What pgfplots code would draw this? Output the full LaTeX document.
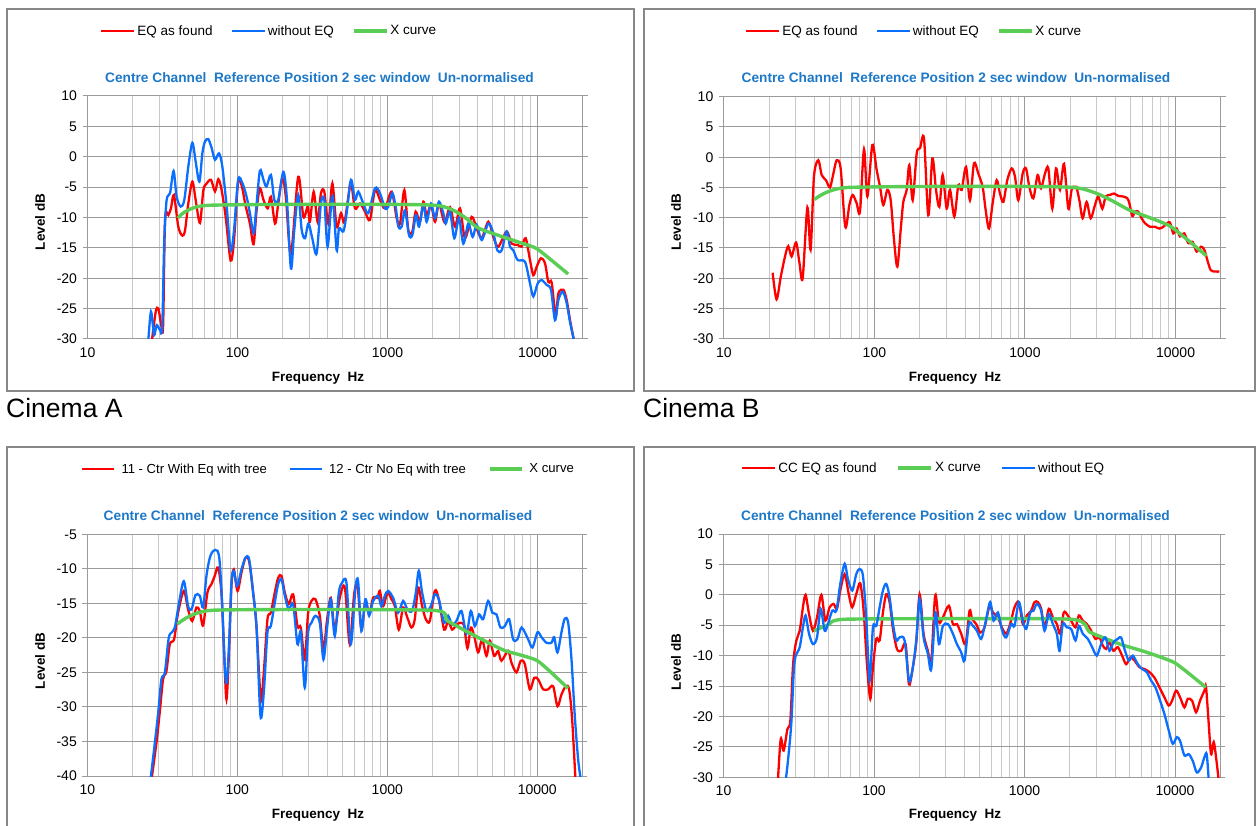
\documentclass[border=0pt]{standalone}
\usepackage{fontspec}
\setmainfont{Liberation Sans}
\usepackage{pgfplots}
\usepackage{pgfplotstable}
\pgfplotsset{compat=1.18}
\definecolor{cred}{RGB}{255,0,0}
\definecolor{cblue}{RGB}{10,110,255}
\definecolor{cgreen}{RGB}{90,205,85}
\definecolor{ctitle}{RGB}{30,120,200}
\definecolor{cframe}{RGB}{135,135,135}
\definecolor{cgridmin}{RGB}{200,200,200}
\definecolor{cgridy}{RGB}{155,155,155}
\pgfplotsset{
  every axis/.append style={
    scale only axis,
    xmin=10, xmax=20000,
    xtick={10,100,1000,10000},
    xticklabels={10,100,1000,10000},
    minor xtick={20,30,40,50,60,70,80,90,200,300,400,500,600,700,800,900,2000,3000,4000,5000,6000,7000,8000,9000},
    xmajorgrids, xminorgrids, ymajorgrids,
    major grid style={draw=cgridy, line width=1pt},
    minor grid style={draw=cgridmin, line width=1pt},
    axis line style={draw=cgridy, line width=1pt},
    tick align=outside,
    major tick length=5pt,
    minor tick length=0pt,
    xtick style={draw=none},
    ytick style={draw=cgridy, line width=1pt},
    tick label style={font=\fontsize{14}{16}\selectfont},
    yticklabel style={xshift=-2pt},
    label style={font=\bfseries\fontsize{13.5}{15}\selectfont},
    title style={font=\bfseries\fontsize{13.7}{15}\selectfont, text=ctitle, anchor=center, yshift=-7pt},
    xlabel={Frequency\ \ Hz},
    ylabel={Level dB},
    title={Centre Channel\ \ Reference Position 2 sec window\ \ Un-normalised},
    legend columns=3,
    legend cell align=left,
  },
  every axis legend/.append style={draw=none, fill=none, anchor=west, font=\fontsize{13.5}{15}\selectfont, inner sep=0pt},
  legend image code/.code={\draw[#1] (0pt,0pt) -- (33pt,0pt);},
}
\tikzset{
  redl/.style={draw=cred, line width=2.3pt, smooth, tension=0.5},
  bluel/.style={draw=cblue, line width=2.3pt, smooth, tension=0.5},
  greenl/.style={draw=cgreen, line width=3.4pt, smooth, tension=0.3},
}
\begin{document}
% ---------------- Panel A ----------------
\pgfplotstableread{
f db
26.8 -30.5
28.5 -25.5
29.7 -25.0
30.9 -27.5
31.9 -28.0
32.9 -10.4
34.6 -9.6
36.0 -8.5
37.7 -6.3
40.3 -11.5
42.9 -13.0
44.7 -12.1
47.0 -7.7
50.0 -4.1
52.6 -7.1
56.2 -10.9
59.2 -5.5
62.3 -4.4
66.6 -3.8
70.8 -5.7
74.5 -3.7
78.4 -5.5
83.4 -9.9
90.0 -17.1
94.8 -13.7
101 -4.1
107 -4.9
113 -8.0
121 -11.0
128 -14.4
134 -8.8
141 -5.2
149 -7.1
159 -8.5
167 -6.6
178 -11.0
187 -7.7
199 -3.5
210 -6.6
227 -16.0
254 -3.3
275 -9.9
294 -8.2
304 -10.7
322 -5.75
342 -10.7
360 -6.0
379 -5.75
403 -11.0
429 -4.4
458 -11.5
490 -9.3
515 -10.9
548 -6.6
571 -4.1
607 -8.5
656 -7.7
708 -9.05
764 -10.4
825 -5.5
891 -7.1
962 -8.5
1066 -5.75
1151 -10.1
1212 -11.0
1295 -5.5
1377 -12.1
1464 -12.3
1541 -9.05
1647 -10.7
1734 -7.4
1825 -9.6
1950 -7.95
2074 -10.7
2204 -7.7
2400 -10.8
2610 -8.3
2818 -11.5
3043 -8.5
3286 -13.4
3640 -9.9
3930 -11.8
4245 -13.4
4701 -10.7
5077 -13.2
5480 -14.8
6227 -12.3
6727 -14.3
7375 -14.5
7843 -14.8
8338 -13.4
8913 -17.0
9380 -19.5
9872 -18.1
10552 -16.7
11220 -17.55
11810 -20.6
12430 -20.7
13220 -26.3
13770 -22.5
14870 -21.9
15650 -23.6
16470 -26.9
17600 -30.5
}\Ared
\pgfplotstableread{
f db
25.4 -30.5
26.5 -25.5
27.8 -29.35
28.9 -27.7
30.4 -28.5
31.5 -28.0
32.5 -13.7
33.7 -7.1
35.5 -6.0
37.5 -2.35
39.3 -6.6
41.8 -8.2
44.2 -7.1
47.0 -1.6
50.0 2.3
52.6 -0.8
55.7 -4.1
58.3 0.56
60.7 2.5
63.9 2.9
67.3 1.4
70.8 -0.5
75.3 0.56
79.2 -1.6
84.7 -8.2
90.0 -15.4
94.8 -12.1
101 -3.8
108 -4.4
115 -6.6
121 -9.3
128 -12.6
133 -8.8
141 -2.3
149 -3.8
156 -4.9
167 -3.0
176 -7.1
187 -7.1
202 -2.5
213 -6.6
227 -18.4
239 -12.1
254 -6.3
268 -12.1
282 -13.4
297 -11.0
315 -13.4
337 -15.9
360 -7.7
379 -7.1
399 -14.8
429 -6.5
458 -15.4
475 -11.8
508 -12.3
534 -9.3
571 -3.8
607 -7.1
639 -5.75
690 -7.7
745 -9.3
825 -5.2
891 -6.0
962 -8.5
1013 -8.2
1077 -6.0
1133 -8.2
1181 -11.5
1243 -11.5
1308 -8.8
1391 -12.9
1464 -12.9
1549 -9.6
1622 -11.5
1734 -7.95
1825 -10.7
1950 -7.7
2074 -10.1
2204 -7.4
2356 -9.3
2443 -11.0
2610 -9.05
2789 -13.4
2997 -10.1
3203 -14.3
3458 -11.0
3696 -13.2
3930 -11.2
4245 -13.7
4701 -11.0
5077 -12.6
5397 -15.4
5770 -15.4
6227 -12.3
6558 -14.8
6900 -15.4
7375 -17.0
8254 -17.3
8913 -20.85
9380 -23.0
10025 -20.85
10662 -20.3
11510 -21.1
12300 -21.9
13080 -26.9
13770 -23.6
14720 -22.2
15650 -24.1
16470 -27.2
17600 -30.5
}\Ablue
\pgfplotstableread{
f db
40 -10.1
63 -8.0
2100 -8.0
4000 -11.7
5000 -12.6
8000 -14.3
10000 -15.2
16000 -19.3
}\Agreen
% ---------------- Panel B ----------------
\pgfplotstableread{
f db
21.1 -19.1
22.4 -23.5
23.9 -19.75
25.5 -16.4
26.8 -14.7
28.2 -16.4
30.2 -14.1
31.8 -17.5
33.4 -20.0
35.9 -8.3
37.7 -15.3
39.7 -3.2
42.4 -0.5
44.7 -2.95
47.7 -3.8
50.7 -5.0
53.4 -2.7
56.2 -0.5
59.7 -1.85
64.1 -11.5
68.2 -7.9
71.7 -6.25
76.2 -7.6
80.2 -9.0
85.3 1.3
89.8 -6.5
96.9 2.0
103.5 -2.1
109 -4.9
114.6 -7.9
121.9 -5.4
128.3 -7.1
135 -13.7
142 -18.1
149.5 -12.0
155.6 -7.4
163.8 -5.4
170.6 -1.3
179.6 -7.1
190.9 0.6
200.9 1.5
213.5 3.1
228 -9.6
242.6 -0.2
256.5 -5.4
270 -8.2
284 -2.95
302 -8.5
317.8 -5.4
339.6 -9.8
360.9 -4.6
379.8 -5.4
405.8 -1.6
431 -7.1
458.6 -1.0
489.8 -2.7
523.4 -4.9
548 -8.7
576.8 -11.8
610 -7.6
648.5 -3.8
682.3 -6.0
718 -7.4
763 -3.8
815.5 -1.85
858 -3.2
903 -7.1
965 -2.7
1015 -1.85
1069 -4.9
1136 -6.8
1214 -2.95
1277 -5.15
1358 -2.7
1429 -1.85
1519 -8.5
1607 -1.85
1708 -5.4
1816 -1.1
1940 -8.5
2041 -5.4
2182 -4.9
2296 -7.1
2415 -10.1
2567 -7.4
2730 -10.1
2916 -7.9
3069 -6.5
3263 -8.5
3434 -6.5
3667 -6.25
3899 -6.0
4166 -6.4
4498 -6.5
4781 -6.8
4930 -7.6
5161 -9.7
5378 -9.0
5656 -9.0
5953 -10.1
6262 -10.9
6761 -11.5
7298 -11.5
7798 -11.8
8290 -11.5
8813 -10.9
9182 -10.8
9660 -12.6
10165 -11.8
10695 -13.1
11430 -12.6
12150 -14.2
12985 -14.0
13800 -15.6
14750 -14.8
15520 -15.3
16250 -17.0
17100 -18.65
18265 -18.9
19520 -18.9
}\Bred
\pgfplotstableread{
f db
40 -7.0
67 -5.0
2100 -5.0
5000 -8.8
9200 -11.4
16000 -16.3
}\Bgreen
% ---------------- Panel C ----------------
\pgfplotstableread{
f db
26.8 -40.5
28.9 -35.2
30.4 -30.8
32.0 -26.0
33.7 -24.8
35.5 -20.9
37.9 -20.2
40.3 -16.35
44.0 -13.2
47.0 -15.9
50.0 -17.55
53.4 -15.6
56.2 -16.1
59.2 -18.2
63.2 -13.45
67.3 -12.2
70.8 -11.0
74.5 -9.8
78.4 -13.45
81.7 -22.1
84.7 -28.9
88.2 -21.7
91.4 -12.5
94.8 -10.1
100.3 -13.2
106.6 -10.55
113.3 -8.4
119.9 -8.9
127.5 -13.45
134.2 -18.3
143.4 -28.9
150.2 -25.0
158.9 -17.3
167.2 -16.35
177.8 -13.45
187.2 -11.3
197 -11.0
207.4 -13.45
220.4 -15.1
235.6 -13.7
251.8 -18.3
265 -18.5
281.8 -23.1
296.7 -16.35
312.3 -14.65
331.9 -14.4
354.8 -16.8
375.3 -21.7
397.1 -17.3
420.1 -14.2
446.7 -18.8
482 -14.2
521 -12.7
562 -20.9
601 -13.7
633 -12.4
672 -18.8
715 -14.65
757 -16.6
804 -14.2
860 -14.2
891 -13.2
938 -15.4
1003 -13.45
1066 -14.4
1122 -15.4
1193 -18.8
1275 -15.6
1362 -17.1
1449 -18.5
1525 -17.3
1606 -12.7
1707 -15.4
1806 -17.3
1920 -17.55
2074 -13.2
2204 -14.4
2393 -18.8
2544 -17.55
2705 -18.8
2891 -18.1
3090 -17.8
3253 -18.3
3423 -21.5
3604 -18.5
3793 -19.7
4034 -22.1
4288 -20.2
4583 -22.6
4824 -20.4
5155 -22.6
5480 -21.9
5770 -23.3
6391 -21.9
6727 -23.6
7263 -25.0
7762 -23.3
8254 -23.8
8913 -27.45
9526 -25.8
10130 -26.0
10940 -27.45
11810 -27.45
12750 -27.0
13630 -29.9
14490 -28.2
15490 -27.0
16300 -27.45
17070 -31.8
17960 -40.5
}\Cred
\pgfplotstableread{
f db
26.4 -40.5
28.2 -35.2
29.7 -30.8
31.2 -26.0
32.9 -25.0
34.9 -20.0
36.8 -19.15
38.5 -18.3
40.9 -14.9
44.0 -11.8
47.0 -15.4
49.5 -15.9
52.6 -13.8
56.2 -13.9
59.2 -15.6
62.3 -11.0
65.6 -8.4
69.1 -7.4
73.8 -7.4
76.4 -9.1
79.6 -15.9
82.5 -24.1
85.1 -26.5
88.2 -20.7
91.4 -12.0
94.8 -10.3
99.7 -12.5
106.6 -10.1
113.3 -8.4
119.9 -8.6
127.5 -13.45
134.2 -18.3
142.7 -31.3
150.2 -27.9
158.9 -19.2
167.2 -18.3
177.8 -14.9
187.2 -12.2
197 -11.5
207.4 -13.9
220.4 -15.9
235.6 -15.1
251.8 -20.9
265 -19.2
281.8 -27.2
296.7 -19.2
312.3 -17.8
331.9 -16.8
354.8 -17.8
375.3 -23.1
397.1 -18.5
420.1 -14.4
446.7 -19.7
475 -13.45
500 -12.0
534 -12.0
571 -20.9
614 -12.7
639 -11.8
672 -19.0
715 -14.4
757 -16.8
804 -14.65
869 -13.9
914 -15.4
962 -13.9
1013 -13.2
1094 -14.2
1181 -16.35
1275 -14.65
1362 -15.9
1464 -16.1
1549 -13.45
1622 -10.3
1707 -13.45
1825 -16.1
1950 -15.4
2074 -13.7
2204 -14.4
2393 -17.8
2544 -16.8
2705 -18.1
2891 -17.55
3122 -16.1
3372 -19.4
3604 -16.1
3832 -18.3
4094 -16.6
4354 -17.3
4701 -14.65
5012 -16.35
5343 -16.6
5681 -18.5
6073 -18.3
6490 -17.3
6900 -20.2
7375 -20.2
7865 -18.5
8688 -20.2
9286 -21.4
10025 -19.2
10662 -19.9
11510 -20.7
12430 -20.7
12950 -19.9
13630 -22.1
14490 -19.2
15250 -17.2
16060 -17.8
16900 -23.1
17780 -31.3
18720 -37.6
19500 -40.5
}\Cblue
\pgfplotstableread{
f db
40 -18.0
68 -16.0
2000 -16.0
2500 -17.5
4000 -19.9
6000 -21.8
10000 -23.3
16000 -27.3
}\Cgreen
% ---------------- Panel D ----------------
\pgfplotstableread{
f db
23.0 -30.5
24.0 -23.7
25.1 -25.6
26.6 -22.05
27.8 -20.7
29.0 -11.4
30.5 -7.5
32.1 -5.9
33.7 -2.05
35.1 0.0
37.0 -3.15
39.3 -5.9
41.8 -3.7
44.7 0.0
47.5 -4.25
50.7 -2.05
53.9 -1.5
56.7 -2.3
59.7 0.7
63.8 3.4
68.2 -0.1
71.7 -2.05
76.2 0.1
81.0 1.9
85.3 -2.6
89.8 -11.4
94.5 -17.1
98.4 -11.9
103.5 -7.25
109 -7.5
114.6 -2.9
120.6 0.1
126.9 -1.2
133.6 -5.6
142 -8.9
151.7 -9.2
162.2 -8.1
170.6 -14.7
179.6 -12.5
190.9 -7.8
200.9 0.1
213.5 -6.4
228 -9.2
240 -11.1
255 -0.1
270 -4.5
287 -3.7
314.6 -1.8
334.4 -4.8
355.4 -4.8
379.8 -6.4
405.8 -8.1
431.4 -2.6
449 -4.0
477.6 -4.8
507.6 -6.2
542.6 -5.35
585.7 -1.8
616.3 -2.9
665.3 -3.7
707.2 -5.35
755.3 -6.4
803 -4.8
858.5 -2.05
917.3 -1.2
975 -4.8
1036 -3.4
1107 -2.6
1165 -1.2
1226 -1.2
1290 -2.3
1358 -5.35
1451 -2.3
1542 -3.7
1640 -4.8
1725 -6.4
1825 -2.9
1940 -3.4
2041 -4.25
2182 -5.35
2296 -3.4
2440 -4.25
2594 -4.8
2772 -5.9
2962 -7.25
3148 -7.0
3313 -8.35
3486 -8.9
3667 -7.8
3899 -9.2
4166 -8.6
4451 -10.0
4734 -11.4
5057 -10.3
5378 -10.8
5803 -11.9
6262 -12.2
6761 -12.7
7298 -13.6
7877 -15.2
8503 -16.85
9088 -18.2
9561 -17.4
10165 -15.75
10804 -16.85
11543 -18.5
12150 -17.1
12985 -17.4
13800 -19.3
14670 -17.4
15680 -15.75
16080 -15.2
16750 -21.2
17360 -26.2
18080 -24.2
18740 -26.7
19520 -30.5
}\Dred
\pgfplotstableread{
f db
25.9 -30.5
26.8 -27.3
28.2 -21.2
29.3 -12.5
30.2 -10.0
32.1 -8.6
33.7 -5.35
35.1 -3.4
37.0 -6.4
39.3 -8.1
41.8 -7.0
44.2 -2.3
47.0 -5.9
49.4 -4.8
52.8 -2.6
56.2 -2.6
59.7 1.8
63.8 5.1
67.1 2.6
71.7 0.7
76.2 3.4
80.2 4.25
84.4 3.15
88.8 -3.7
93.5 -14.1
98.4 -5.35
103.5 -5.1
109 -2.05
114.6 0.7
120.6 1.8
126.9 -0.4
133.6 -4.8
140.6 -7.5
148 -7.0
159.7 -7.5
170.6 -14.1
179.6 -12.5
190.9 -7.5
200.9 -0.7
213.5 -7.0
228 -9.7
240 -12.2
256.5 -2.9
270 -8.1
287 -5.1
309.7 -4.8
334.4 -6.4
355.4 -8.1
379.8 -9.45
399.6 -10.8
427 -4.8
454 -5.1
482.6 -5.9
515.8 -7.25
550.8 -4.5
591.6 -1.2
622.6 -4.25
665.3 -2.9
710.8 -5.9
755.3 -7.0
815.5 -4.8
858.5 -5.1
917.3 -1.2
975 -4.25
1026 -5.6
1091 -2.9
1148 -2.6
1207 -1.5
1290 -2.6
1358 -5.9
1451 -3.15
1542 -4.8
1640 -6.4
1708 -9.2
1797 -4.8
1910 -5.35
2041 -5.6
2182 -7.5
2296 -5.1
2440 -6.4
2634 -7.25
2814 -8.6
3022 -10.0
3229 -8.1
3451 -7.0
3667 -9.2
3899 -7.8
4166 -7.25
4384 -7.0
4613 -8.9
4930 -10.8
5242 -10.0
5656 -11.4
6045 -12.2
6492 -12.7
6935 -14.1
7410 -15.2
7961 -17.4
8503 -19.6
9088 -22.3
9660 -24.5
10270 -23.4
10804 -24.0
11543 -26.4
12340 -26.2
13120 -27.3
13950 -29.2
14900 -28.4
15680 -26.7
16250 -26.2
16750 -30.5
}\Dblue
\pgfplotstableread{
f db
40 -5.9
50 -4.9
67 -4.0
2000 -4.0
2700 -6.1
4300 -8.1
6400 -9.4
10000 -11.2
16000 -15.2
}\Dgreen
\begin{tikzpicture}
\useasboundingbox (0pt,0pt) rectangle (1260pt,825pt);
\fill[white] (0pt,0pt) rectangle (1260pt,825pt);
\draw[cframe, line width=1.6pt] (7pt,434pt) rectangle (634pt,816pt);
\draw[cframe, line width=1.6pt] (644pt,434pt) rectangle (1255pt,816pt);
\draw[cframe, line width=1.6pt] (7pt,-10pt) rectangle (634pt,378pt);
\draw[cframe, line width=1.6pt] (644pt,-10pt) rectangle (1255pt,378pt);
\node[anchor=base west, inner sep=0pt, font=\fontsize{26.5}{30}\selectfont] at (6pt,407pt) {Cinema A};
\node[anchor=base west, inner sep=0pt, font=\fontsize{26.5}{30}\selectfont] at (643pt,407pt) {Cinema B};

\begin{axis}[xmode=log, at={(87.5pt,486pt)}, anchor=south west,
  width=495.15pt, height=243pt,
  ymin=-30, ymax=10, ytick={-30,-25,...,10},
  yticklabels={-30,-25,-20,-15,-10,-5,0,5,10},
  title style={at={(axis description cs:0.4686,1.078)}},
  xlabel style={at={(axis description cs:0.4655,-0.160)}, anchor=center},
  ylabel style={at={(axis description cs:-0.0959,0.481)}, anchor=center},
  legend style={at={(axis description cs:0.0252,1.2675)}, /tikz/every even column/.append style={column sep=16pt}},
]
\addplot[redl] table[x=f,y=db] {\Ared};
\addlegendentry{EQ as found}
\addplot[bluel] table[x=f,y=db] {\Ablue};
\addlegendentry{without EQ}
\addplot[greenl] table[x=f,y=db] {\Agreen};
\addlegendentry{X curve}
\end{axis}

\begin{axis}[xmode=log, at={(723.8pt,486.3pt)}, anchor=south west,
  width=497.1pt, height=242pt,
  ymin=-30, ymax=10, ytick={-30,-25,...,10},
  yticklabels={-30,-25,-20,-15,-10,-5,0,5,10},
  title style={at={(axis description cs:0.467,1.081)}},
  xlabel style={at={(axis description cs:0.465,-0.162)}, anchor=center},
  ylabel style={at={(axis description cs:-0.0961,0.482)}, anchor=center},
  legend style={at={(axis description cs:0.0426,1.271)}, /tikz/every even column/.append style={column sep=16pt}},
]
\addplot[redl] table[x=f,y=db] {\Bred};
\addlegendentry{EQ as found}
\addlegendimage{bluel}
\addlegendentry{without EQ}
\addplot[greenl] table[x=f,y=db] {\Bgreen};
\addlegendentry{X curve}
\end{axis}

\begin{axis}[xmode=log, at={(87.3pt,49pt)}, anchor=south west,
  width=495.15pt, height=241.7pt,
  ymin=-40, ymax=-5, ytick={-40,-35,...,-5},
  yticklabels={-40,-35,-30,-25,-20,-15,-10,-5},
  title style={at={(axis description cs:0.466,1.080)}},
  xlabel style={at={(axis description cs:0.466,-0.161)}, anchor=center},
  ylabel style={at={(axis description cs:-0.0955,0.476)}, anchor=center},
  legend style={at={(axis description cs:-0.0127,1.270)}, font=\fontsize{13.1}{15}\selectfont, /tikz/every even column/.append style={column sep=20pt}},
  legend image code/.code={\draw[#1] (0pt,0pt) -- (32pt,0pt); \path (36pt,0pt);},
]
\addplot[redl] table[x=f,y=db] {\Cred};
\addlegendentry{11 - Ctr With Eq with tree}
\addplot[bluel] table[x=f,y=db] {\Cblue};
\addlegendentry{12 - Ctr No Eq with tree}
\addplot[greenl] table[x=f,y=db] {\Cgreen};
\addlegendentry{X curve}
\end{axis}

\begin{axis}[xmode=log, at={(723.5pt,47.7pt)}, anchor=south west,
  width=496.8pt, height=243.3pt,
  ymin=-30, ymax=10, ytick={-30,-25,...,10},
  yticklabels={-30,-25,-20,-15,-10,-5,0,5,10},
  title style={at={(axis description cs:0.467,1.078)}},
  xlabel style={at={(axis description cs:0.466,-0.155)}, anchor=center},
  ylabel style={at={(axis description cs:-0.0956,0.474)}, anchor=center},
  legend style={at={(axis description cs:0.035,1.271)}, /tikz/every even column/.append style={column sep=18pt}},
]
\addplot[redl] table[x=f,y=db] {\Dred};
\addlegendentry{CC EQ as found}
\addplot[greenl] table[x=f,y=db] {\Dgreen};
\addlegendentry{X curve}
\addplot[bluel] table[x=f,y=db] {\Dblue};
\addlegendentry{without EQ}
\end{axis}
\end{tikzpicture}
\end{document}
